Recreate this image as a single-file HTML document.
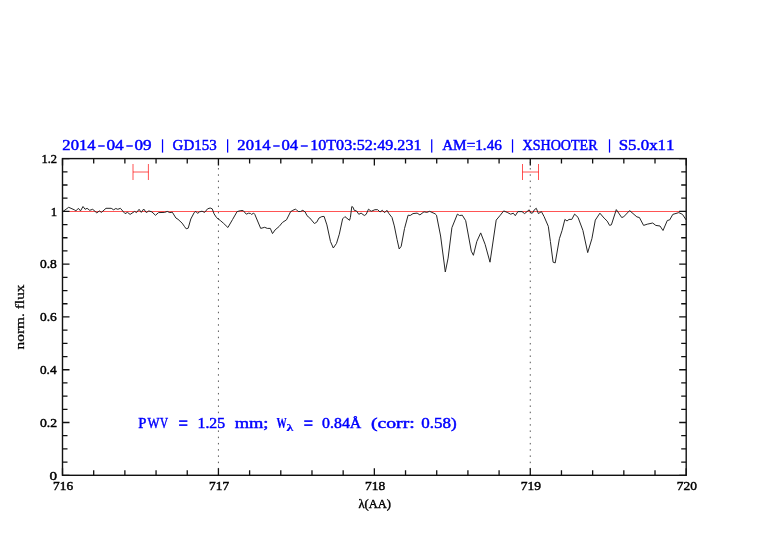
<!DOCTYPE html><html><head><meta charset="utf-8"><style>html,body{margin:0;padding:0;background:#fff;width:782px;height:542px;overflow:hidden}svg{display:block;will-change:transform}text{font-kerning:none;white-space:pre}</style></head><body>
<svg width="782" height="542" viewBox="0 0 782 542">
<rect width="782" height="542" fill="#fff"/>
<line x1="218.43" y1="158.6" x2="218.43" y2="475.3" stroke="#000" stroke-opacity="0.65" stroke-width="1.0" stroke-dasharray="1.5 4.747" stroke-dashoffset="3.04"/>
<line x1="530.28" y1="158.6" x2="530.28" y2="475.3" stroke="#000" stroke-opacity="0.65" stroke-width="1.0" stroke-dasharray="1.5 4.747" stroke-dashoffset="3.04"/>
<line x1="62.5" y1="211.5" x2="686.2" y2="211.5" stroke="#ff4040" stroke-width="0.9"/>
<polyline points="63.1,211.4 68.7,207.3 74.3,209.8 75.9,210.9 78.4,208.3 80.5,210.9 83.0,206.5 85.1,209.3 87.1,208.3 89.7,210.3 92.7,209.3 96.8,212.9 99.4,210.9 101.4,212.4 106.0,208.3 111.2,208.3 113.7,209.8 115.8,208.5 117.8,209.3 120.4,208.3 125.0,213.6 127.5,212.4 130.1,214.4 134.7,211.4 136.5,212.6 139.1,209.3 141.3,212.4 143.7,209.0 146.3,212.6 148.8,210.9 151.9,211.9 155.5,215.3 158.5,212.6 164.7,212.4 167.2,211.4 169.8,212.6 172.3,212.2 175.9,218.0 178.0,219.3 182.1,223.1 184.6,226.7 186.2,228.8 188.2,228.2 190.8,219.0 194.3,212.4 195.9,211.4 197.6,213.4 199.4,211.9 202.0,211.2 204.6,212.4 207.6,208.8 210.2,208.0 212.2,208.8 214.1,213.9 216.6,217.7 220.2,220.4 223.3,223.1 227.9,227.5 232.5,219.6 237.1,211.6 240.7,210.6 243.2,210.6 246.3,214.2 248.4,213.2 250.4,213.4 251.5,214.4 253.7,213.1 254.8,214.4 260.7,228.4 264.7,227.3 267.3,228.4 270.3,228.4 272.5,233.6 275.1,229.9 279.1,226.5 282.4,222.5 286.5,219.8 290.6,211.7 292.8,210.3 295.4,209.2 296.4,209.7 298.2,211.5 300.5,211.5 302.8,210.3 305.2,212.0 307.0,215.7 309.8,218.0 314.4,223.5 316.7,222.2 319.0,218.0 321.8,216.6 324.1,216.4 326.9,224.9 330.5,241.6 333.3,248.0 336.5,243.4 339.3,234.2 342.6,218.9 344.9,216.6 349.5,220.3 350.4,217.5 351.8,206.5 353.2,207.4 354.2,210.3 356.5,210.9 358.8,214.3 361.1,213.1 364.3,215.5 366.2,214.3 368.5,209.2 371.2,211.3 374.9,209.7 377.7,209.7 380.0,212.0 382.3,210.3 384.6,212.7 386.9,210.3 388.8,213.4 392.0,217.5 394.3,225.9 397.1,239.7 399.2,249.0 401.2,246.3 404.5,228.6 408.1,215.2 410.2,215.5 413.0,213.6 417.1,213.1 419.9,214.9 424.0,211.8 426.8,212.4 429.6,211.3 435.1,213.8 436.5,215.2 440.6,236.0 445.3,272.0 448.1,258.1 451.9,227.7 457.4,214.1 459.5,215.5 462.3,215.2 465.7,220.7 471.3,251.2 473.4,255.3 476.8,241.5 480.7,232.9 485.1,244.3 490.0,262.2 496.2,220.1 500.3,215.2 503.7,210.9 507.2,212.4 510.7,214.2 513.3,213.2 515.3,215.7 517.9,211.6 522.0,211.6 524.6,213.6 529.2,209.8 531.2,213.2 532.7,212.9 534.3,209.8 536.3,208.3 538.4,213.6 541.4,211.6 544.1,216.6 548.3,226.3 550.4,241.5 553.1,262.2 555.2,262.9 559.4,238.7 562.1,230.4 564.9,219.4 567.0,221.0 569.0,219.4 571.8,219.4 574.6,214.1 578.0,217.3 582.9,230.4 587.7,252.6 591.9,238.7 595.3,220.1 599.9,213.2 604.1,218.1 607.2,221.1 609.6,225.4 611.4,224.8 616.3,209.6 621.7,217.5 623.6,216.9 629.6,210.6 636.9,216.9 639.4,217.5 643.6,225.4 647.2,224.2 652.7,223.0 655.8,225.4 660.0,226.0 663.0,230.5 667.3,220.5 669.7,219.9 672.8,214.4 678.8,212.6 682.5,214.4 686.1,219.9" fill="none" stroke="#262626" stroke-width="1.0" stroke-linejoin="round"/>
<path d="M62.50,475.3v-7M62.50,158.6v7M93.69,475.3v-5M93.69,158.6v5M124.87,475.3v-5M124.87,158.6v5M156.06,475.3v-5M156.06,158.6v5M187.24,475.3v-5M187.24,158.6v5M218.43,475.3v-7M218.43,158.6v7M249.61,475.3v-5M249.61,158.6v5M280.79,475.3v-5M280.79,158.6v5M311.98,475.3v-5M311.98,158.6v5M343.16,475.3v-5M343.16,158.6v5M374.35,475.3v-7M374.35,158.6v7M405.54,475.3v-5M405.54,158.6v5M436.72,475.3v-5M436.72,158.6v5M467.91,475.3v-5M467.91,158.6v5M499.09,475.3v-5M499.09,158.6v5M530.28,475.3v-7M530.28,158.6v7M561.46,475.3v-5M561.46,158.6v5M592.64,475.3v-5M592.64,158.6v5M623.83,475.3v-5M623.83,158.6v5M655.01,475.3v-5M655.01,158.6v5M686.20,475.3v-7M686.20,158.6v7M62.5,475.30h7M686.2,475.30h-7M62.5,462.10h5M686.2,462.10h-5M62.5,448.91h5M686.2,448.91h-5M62.5,435.71h5M686.2,435.71h-5M62.5,422.52h7M686.2,422.52h-7M62.5,409.32h5M686.2,409.32h-5M62.5,396.12h5M686.2,396.12h-5M62.5,382.93h5M686.2,382.93h-5M62.5,369.73h7M686.2,369.73h-7M62.5,356.54h5M686.2,356.54h-5M62.5,343.34h5M686.2,343.34h-5M62.5,330.15h5M686.2,330.15h-5M62.5,316.95h7M686.2,316.95h-7M62.5,303.75h5M686.2,303.75h-5M62.5,290.56h5M686.2,290.56h-5M62.5,277.36h5M686.2,277.36h-5M62.5,264.17h7M686.2,264.17h-7M62.5,250.97h5M686.2,250.97h-5M62.5,237.77h5M686.2,237.77h-5M62.5,224.58h5M686.2,224.58h-5M62.5,211.38h7M686.2,211.38h-7M62.5,198.19h5M686.2,198.19h-5M62.5,184.99h5M686.2,184.99h-5M62.5,171.80h5M686.2,171.80h-5M62.5,158.60h7M686.2,158.60h-7" stroke="#111" stroke-width="1.3" fill="none"/>
<rect x="62.5" y="158.6" width="623.70" height="316.70" fill="none" stroke="#111" stroke-width="1.4"/>
<path d="M133.0,164V180M148.4,164V180M133.0,172H148.4" stroke="#ff0000" stroke-width="1" fill="none" opacity="0.68"/>
<path d="M522.5,164V180M538.5,164V180M522.5,172H538.5" stroke="#ff0000" stroke-width="1" fill="none" opacity="0.68"/>
<text x="62.37" y="150.30" font-size="14.05" font-family='"Liberation Serif",serif' font-weight="normal" fill="#0000ff" textLength="33.19" lengthAdjust="spacingAndGlyphs" stroke="#0000ff" stroke-width="0.45">2014</text>
<text x="106.44" y="150.30" font-size="14.05" font-family='"Liberation Serif",serif' font-weight="normal" fill="#0000ff" textLength="17.23" lengthAdjust="spacingAndGlyphs" stroke="#0000ff" stroke-width="0.45">04</text>
<text x="134.55" y="150.30" font-size="14.05" font-family='"Liberation Serif",serif' font-weight="normal" fill="#0000ff" textLength="17.05" lengthAdjust="spacingAndGlyphs" stroke="#0000ff" stroke-width="0.45">09</text>
<text x="172.59" y="150.30" font-size="14.05" font-family='"Liberation Serif",serif' font-weight="normal" fill="#0000ff" textLength="44.10" lengthAdjust="spacingAndGlyphs" stroke="#0000ff" stroke-width="0.45">GD153</text>
<text x="237.37" y="150.30" font-size="14.05" font-family='"Liberation Serif",serif' font-weight="normal" fill="#0000ff" textLength="33.19" lengthAdjust="spacingAndGlyphs" stroke="#0000ff" stroke-width="0.45">2014</text>
<text x="281.46" y="150.30" font-size="14.05" font-family='"Liberation Serif",serif' font-weight="normal" fill="#0000ff" textLength="16.70" lengthAdjust="spacingAndGlyphs" stroke="#0000ff" stroke-width="0.45">04</text>
<text x="310.19" y="150.30" font-size="14.05" font-family='"Liberation Serif",serif' font-weight="normal" fill="#0000ff" textLength="111.28" lengthAdjust="spacingAndGlyphs" stroke="#0000ff" stroke-width="0.45">10T03:52:49.231</text>
<text x="442.15" y="150.30" font-size="14.05" font-family='"Liberation Serif",serif' font-weight="normal" fill="#0000ff" textLength="59.70" lengthAdjust="spacingAndGlyphs" stroke="#0000ff" stroke-width="0.45">AM=1.46</text>
<text x="522.49" y="150.30" font-size="14.05" font-family='"Liberation Serif",serif' font-weight="normal" fill="#0000ff" textLength="75.13" lengthAdjust="spacingAndGlyphs" stroke="#0000ff" stroke-width="0.45">XSHOOTER</text>
<text x="618.67" y="150.30" font-size="14.05" font-family='"Liberation Serif",serif' font-weight="normal" fill="#0000ff" textLength="55.84" lengthAdjust="spacingAndGlyphs" stroke="#0000ff" stroke-width="0.45">S5.0x11</text>
<rect x="98.20" y="145.3" width="6.50" height="1.4" fill="#0000ff"/>
<rect x="126.30" y="145.3" width="6.50" height="1.4" fill="#0000ff"/>
<rect x="273.20" y="145.3" width="6.50" height="1.4" fill="#0000ff"/>
<rect x="300.80" y="145.3" width="7.00" height="1.4" fill="#0000ff"/>
<rect x="161.90" y="139.3" width="1.25" height="13.3" fill="#0000ff"/>
<rect x="227.00" y="139.3" width="1.25" height="13.3" fill="#0000ff"/>
<rect x="431.10" y="139.3" width="1.25" height="13.3" fill="#0000ff"/>
<rect x="511.90" y="139.3" width="1.25" height="13.3" fill="#0000ff"/>
<rect x="608.90" y="139.3" width="1.25" height="13.3" fill="#0000ff"/>
<text x="138.38" y="427.50" font-size="14.05" font-family='"Liberation Serif",serif' font-weight="normal" fill="#0000ff" textLength="8.10" lengthAdjust="spacingAndGlyphs" stroke="#0000ff" stroke-width="0.45">P</text>
<text x="147.59" y="427.50" font-size="14.05" font-family='"Liberation Serif",serif' font-weight="normal" fill="#0000ff" textLength="12.04" lengthAdjust="spacingAndGlyphs" stroke="#0000ff" stroke-width="0.45">W</text>
<text x="160.07" y="427.50" font-size="14.05" font-family='"Liberation Serif",serif' font-weight="normal" fill="#0000ff" textLength="8.05" lengthAdjust="spacingAndGlyphs" stroke="#0000ff" stroke-width="0.45">V</text>
<rect x="179.1" y="420.3" width="8.3" height="1.6" fill="#0000ff"/><rect x="179.1" y="424.3" width="8.3" height="1.6" fill="#0000ff"/>
<text x="197.51" y="427.50" font-size="14.05" font-family='"Liberation Serif",serif' font-weight="normal" fill="#0000ff" textLength="27.60" lengthAdjust="spacingAndGlyphs" stroke="#0000ff" stroke-width="0.45">1.25</text>
<text x="234.71" y="427.50" font-size="14.05" font-family='"Liberation Serif",serif' font-weight="normal" fill="#0000ff" textLength="33.80" lengthAdjust="spacingAndGlyphs" stroke="#0000ff" stroke-width="0.45">mm;</text>
<text x="276.56" y="427.50" font-size="14.05" font-family='"Liberation Serif",serif' font-weight="bold" fill="#0000ff" textLength="10.20" lengthAdjust="spacingAndGlyphs" stroke="#0000ff" stroke-width="0.2">W</text>
<rect x="304.2" y="420.3" width="8.3" height="1.6" fill="#0000ff"/><rect x="304.2" y="424.3" width="8.3" height="1.6" fill="#0000ff"/>
<text x="322.10" y="427.50" font-size="14.05" font-family='"Liberation Serif",serif' font-weight="normal" fill="#0000ff" textLength="39.22" lengthAdjust="spacingAndGlyphs" stroke="#0000ff" stroke-width="0.45">0.84Å</text>
<text x="371.04" y="427.50" font-size="14.05" font-family='"Liberation Serif",serif' font-weight="normal" fill="#0000ff" textLength="43.66" lengthAdjust="spacingAndGlyphs" stroke="#0000ff" stroke-width="0.45">(corr:</text>
<text x="421.35" y="427.50" font-size="14.05" font-family='"Liberation Serif",serif' font-weight="normal" fill="#0000ff" textLength="35.39" lengthAdjust="spacingAndGlyphs" stroke="#0000ff" stroke-width="0.45">0.58)</text>
<text x="286.44" y="431.00" font-size="10.23" font-family='"Liberation Serif",serif' font-weight="bold" fill="#0000ff" textLength="6.82" lengthAdjust="spacingAndGlyphs" stroke="#0000ff" stroke-width="0.2">λ</text>
<text x="49.42" y="479.50" font-size="11.48" font-family='"Liberation Serif",serif' font-weight="normal" fill="#000" textLength="7.55" lengthAdjust="spacingAndGlyphs" stroke="#000" stroke-width="0.4">0</text>
<text x="39.98" y="426.72" font-size="11.48" font-family='"Liberation Serif",serif' font-weight="normal" fill="#000" textLength="17.18" lengthAdjust="spacingAndGlyphs" stroke="#000" stroke-width="0.4">0.2</text>
<text x="39.99" y="373.93" font-size="11.48" font-family='"Liberation Serif",serif' font-weight="normal" fill="#000" textLength="16.61" lengthAdjust="spacingAndGlyphs" stroke="#000" stroke-width="0.4">0.4</text>
<text x="39.99" y="321.15" font-size="11.48" font-family='"Liberation Serif",serif' font-weight="normal" fill="#000" textLength="16.81" lengthAdjust="spacingAndGlyphs" stroke="#000" stroke-width="0.4">0.6</text>
<text x="39.98" y="268.37" font-size="11.48" font-family='"Liberation Serif",serif' font-weight="normal" fill="#000" textLength="16.93" lengthAdjust="spacingAndGlyphs" stroke="#000" stroke-width="0.4">0.8</text>
<text x="50.78" y="215.58" font-size="11.48" font-family='"Liberation Serif",serif' font-weight="normal" fill="#000" textLength="6.39" lengthAdjust="spacingAndGlyphs" stroke="#000" stroke-width="0.4">1</text>
<text x="41.50" y="162.80" font-size="11.48" font-family='"Liberation Serif",serif' font-weight="normal" fill="#000" textLength="15.58" lengthAdjust="spacingAndGlyphs" stroke="#000" stroke-width="0.4">1.2</text>
<text x="53.12" y="490.00" font-size="11.48" font-family='"Liberation Serif",serif' font-weight="normal" fill="#000" textLength="20.08" lengthAdjust="spacingAndGlyphs" stroke="#000" stroke-width="0.4">716</text>
<text x="209.04" y="490.00" font-size="11.48" font-family='"Liberation Serif",serif' font-weight="normal" fill="#000" textLength="20.07" lengthAdjust="spacingAndGlyphs" stroke="#000" stroke-width="0.4">717</text>
<text x="364.96" y="490.00" font-size="11.48" font-family='"Liberation Serif",serif' font-weight="normal" fill="#000" textLength="20.20" lengthAdjust="spacingAndGlyphs" stroke="#000" stroke-width="0.4">718</text>
<text x="520.89" y="490.00" font-size="11.48" font-family='"Liberation Serif",serif' font-weight="normal" fill="#000" textLength="20.24" lengthAdjust="spacingAndGlyphs" stroke="#000" stroke-width="0.4">719</text>
<text x="676.81" y="490.00" font-size="11.48" font-family='"Liberation Serif",serif' font-weight="normal" fill="#000" textLength="20.20" lengthAdjust="spacingAndGlyphs" stroke="#000" stroke-width="0.4">720</text>
<text x="358.47" y="507.80" font-size="12.12" font-family='"Liberation Serif",serif' font-weight="normal" fill="#000" textLength="32.48" lengthAdjust="spacingAndGlyphs" stroke="#000" stroke-width="0.4">λ(AA)</text>
<g transform="translate(0,633.8) rotate(-90)"><text x="284.25" y="23.83" font-size="11.69" font-family='"Liberation Serif",serif' font-weight="normal" fill="#000" textLength="65.14" lengthAdjust="spacingAndGlyphs" stroke="#000" stroke-width="0.25">norm. flux</text></g>
</svg></body></html>
